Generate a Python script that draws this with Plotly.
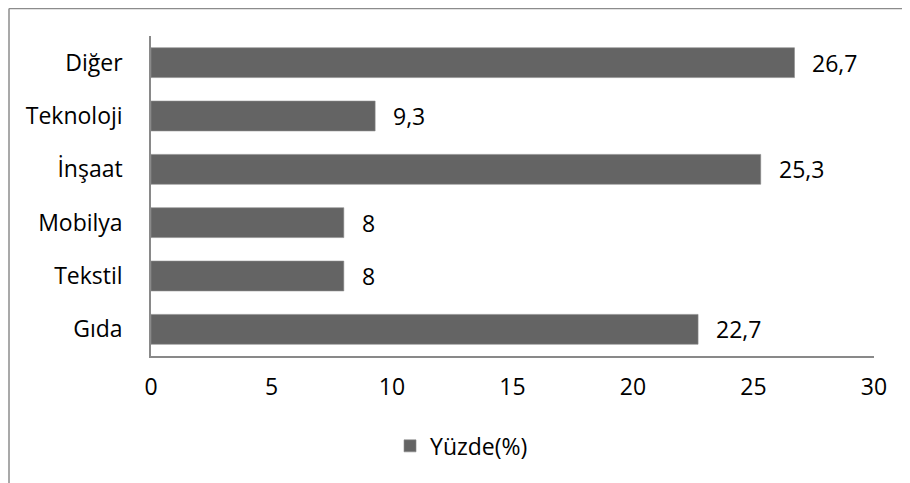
import plotly.graph_objects as go

categories = ["Gıda", "Tekstil", "Mobilya", "İnşaat", "Teknoloji", "Diğer"]
values = [22.7, 8, 8, 25.3, 9.3, 26.7]
labels = ["22,7", "8", "8", "25,3", "9,3", "26,7"]
series_name = "Yüzde(%)"
x_ticks = [0, 5, 10, 15, 20, 25, 30]

FONT = "Open Sans, Noto Sans, sans-serif"
BAR = "#646464"
AXIS = "#898989"
FS = 23

# page body has an 8px margin, so the figure is 902x475 starting at (8,8)
fig = go.Figure()
fig.add_trace(go.Bar(
    y=categories, x=values, orientation="h", name=series_name,
    marker=dict(color=BAR, line=dict(color="#8a8a8a", width=0.6)),
    width=0.56, showlegend=True,
))

for c, v, t in zip(categories, values, labels):
    fig.add_annotation(x=v, y=c, text=t, showarrow=False, xanchor="left",
                       xshift=16, font=dict(family=FONT, size=FS, color="#000000"))

fig.update_layout(
    width=902, height=475,
    margin=dict(l=143, r=36, t=28, b=127),
    paper_bgcolor="white", plot_bgcolor="white",
    font=dict(family=FONT, size=FS, color="#000000"),
    xaxis=dict(range=[0, 30], tickvals=x_ticks, showgrid=False, zeroline=False,
               showline=True, linecolor=AXIS, linewidth=1.5, ticks="",
               ticklabelstandoff=10, tickfont=dict(size=FS)),
    yaxis=dict(showgrid=False, zeroline=False, showline=True, linecolor=AXIS,
               linewidth=1.5, ticks="", ticklabelstandoff=22,
               categoryorder="array", categoryarray=categories,
               tickfont=dict(size=FS)),
    legend=dict(orientation="h", x=0.3306, xanchor="left", y=-0.281, yanchor="middle",
                font=dict(size=FS), bgcolor="rgba(0,0,0,0)"),
    bargap=0.44,
    shapes=[
        dict(type="line", xref="paper", yref="paper", x0=-0.1964, x1=1.06,
             y0=1.0859, y1=1.0859, line=dict(color="#8c8c8c", width=1.5)),
        dict(type="line", xref="paper", yref="paper", x0=-0.1964, x1=-0.1964,
             y0=1.0859, y1=-0.45, line=dict(color="#8c8c8c", width=1.5)),
    ],
)

fig.write_html("out.html")
